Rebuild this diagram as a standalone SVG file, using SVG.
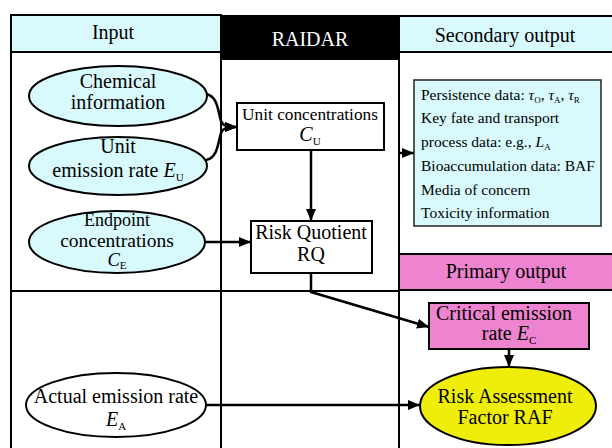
<svg xmlns="http://www.w3.org/2000/svg" width="612" height="448" viewBox="0 0 612 448">
  <style>
    text { font-family: "Liberation Serif", "DejaVu Serif", "Times New Roman", serif; fill: #000; }
    .hdr { font-size: 20px; text-anchor: middle; }
    .lbl { font-size: 20px; text-anchor: middle; }
    .lst { font-size: 15.5px; }
    .it { font-style: italic; }
    .sub { font-size: 11px; }
    .frame { stroke: #000; stroke-width: 2; fill: none; }
    .node { stroke: #000; stroke-width: 2; }
    .wire { stroke: #000; stroke-width: 2.5; fill: none; }
  </style>
  <defs>
    <marker id="arrow" markerUnits="userSpaceOnUse" markerWidth="12" markerHeight="10" refX="12" refY="5" orient="auto">
      <path d="M0,0 L12,5 L0,10 z" fill="#000"/>
    </marker>
  </defs>

  <rect width="612" height="448" fill="#fff"/>

  <g font-family="Liberation Serif, DejaVu Serif, serif">
  <!-- column headers and grid -->
  <g id="grid">
    <rect x="11" y="15" width="210" height="37" class="frame" style="fill:#d8fafc"/>
    <rect x="221" y="15" width="178" height="45" fill="#000"/>
    <rect x="399" y="16" width="215" height="36" class="frame" style="fill:#d8fafc"/>
    <rect x="399" y="254" width="215" height="36" class="frame" style="fill:#ee84cf"/>
    <line x1="11" y1="15" x2="11" y2="448" class="frame"/>
    <line x1="221" y1="15" x2="221" y2="448" class="frame"/>
    <line x1="399" y1="15" x2="399" y2="448" class="frame"/>
    <line x1="11" y1="291" x2="399" y2="291" class="frame"/>
    <text x="113" y="39" class="hdr">Input</text>
    <text x="310" y="46" class="hdr" style="fill:#fff">RAIDAR</text>
    <text x="505" y="42" class="hdr">Secondary output</text>
    <text x="506" y="278" class="hdr">Primary output</text>
  </g>

  <!-- connectors -->
  <g id="connectors">
    <path d="M206,94 C218,96 218,112 221,121 C223,126 227,127 237,127" class="wire" marker-end="url(#arrow)"/>
    <path d="M206,160 C218,158 218,142 221,133 C223,128 227,127 237,127" class="wire" marker-end="url(#arrow)"/>
    <line x1="311" y1="150" x2="311" y2="221" class="wire" marker-end="url(#arrow)"/>
    <line x1="205" y1="242" x2="251" y2="242" class="wire" marker-end="url(#arrow)"/>
    <path d="M311,273 L311,292 L429,327" class="wire" marker-end="url(#arrow)"/>
    <line x1="399" y1="153" x2="414" y2="153" class="wire" marker-end="url(#arrow)"/>
    <line x1="509" y1="349" x2="509" y2="367" class="wire" marker-end="url(#arrow)"/>
    <line x1="206" y1="405" x2="420" y2="405" class="wire" marker-end="url(#arrow)"/>
  </g>

  <!-- input nodes -->
  <g id="chemical-information">
    <ellipse cx="118" cy="96" rx="89" ry="30" class="node" fill="#d8fafc"/>
    <text x="118" y="88" class="lbl">Chemical</text>
    <text x="118" y="109" class="lbl">information</text>
  </g>
  <g id="unit-emission-rate">
    <ellipse cx="118" cy="166" rx="89" ry="29" class="node" fill="#d8fafc"/>
    <text x="118" y="153" class="lbl">Unit</text>
    <text x="118" y="177" class="lbl">emission rate <tspan class="it">E</tspan><tspan class="sub" dy="4">U</tspan></text>
  </g>
  <g id="endpoint-concentrations">
    <ellipse cx="117" cy="242" rx="88" ry="31" class="node" fill="#d8fafc"/>
    <text x="117" y="226" class="lbl" style="font-size:18px">Endpoint</text>
    <text x="117" y="247" class="lbl" style="font-size:19.5px">concentrations</text>
    <text x="117" y="266" class="lbl" style="font-size:18.5px"><tspan class="it">C</tspan><tspan class="sub" dy="3">E</tspan></text>
  </g>
  <g id="actual-emission-rate">
    <ellipse cx="116" cy="405" rx="90" ry="32" class="node" fill="#fff"/>
    <text x="116" y="403" class="lbl">Actual emission rate</text>
    <text x="116" y="426" class="lbl"><tspan class="it">E</tspan><tspan class="sub" dy="4">A</tspan></text>
  </g>

  <!-- RAIDAR nodes -->
  <g id="unit-concentrations">
    <rect x="237" y="103" width="147" height="47" class="node" fill="#fff"/>
    <text x="310" y="120" class="lbl" style="font-size:17.3px">Unit concentrations</text>
    <text x="310" y="141" class="lbl"><tspan class="it">C</tspan><tspan class="sub" dy="4">U</tspan></text>
  </g>
  <g id="risk-quotient">
    <rect x="251" y="221" width="121" height="52" class="node" fill="#fff"/>
    <text x="311" y="239" class="lbl">Risk Quotient</text>
    <text x="311" y="261" class="lbl">RQ</text>
  </g>

  <!-- output nodes -->
  <g id="secondary-output">
    <rect x="414" y="80" width="187" height="146" fill="#d8fafc" stroke="#222" stroke-width="1.5"/>
    <text x="421" y="100" class="lst">Persistence data: <tspan class="it">τ</tspan><tspan class="sub" dy="3" style="font-size:9px">O</tspan><tspan dy="-3">, </tspan><tspan class="it">τ</tspan><tspan class="sub" dy="3" style="font-size:9px">A</tspan><tspan dy="-3">, </tspan><tspan class="it">τ</tspan><tspan class="sub" dy="3" style="font-size:9px">R</tspan></text>
    <text x="421" y="123" class="lst">Key fate and transport</text>
    <text x="421" y="147" class="lst">process data: e.g., <tspan class="it">L</tspan><tspan class="sub" dy="3" style="font-size:9px">A</tspan></text>
    <text x="421" y="171" class="lst">Bioaccumulation data: BAF</text>
    <text x="421" y="195" class="lst">Media of concern</text>
    <text x="421" y="218" class="lst">Toxicity information</text>
  </g>
  <g id="critical-emission-rate">
    <rect x="429" y="303" width="160" height="46" class="node" fill="#ee84cf"/>
    <text x="504" y="320" class="lbl">Critical emission</text>
    <text x="509" y="340" class="lbl">rate <tspan class="it">E</tspan><tspan class="sub" dy="4">C</tspan></text>
  </g>
  <g id="risk-assessment-factor">
    <ellipse cx="508" cy="406" rx="88" ry="39" class="node" fill="#eeee0a"/>
    <text x="505" y="403" class="lbl">Risk Assessment</text>
    <text x="505" y="424" class="lbl">Factor RAF</text>
  </g>
  </g>
</svg>
